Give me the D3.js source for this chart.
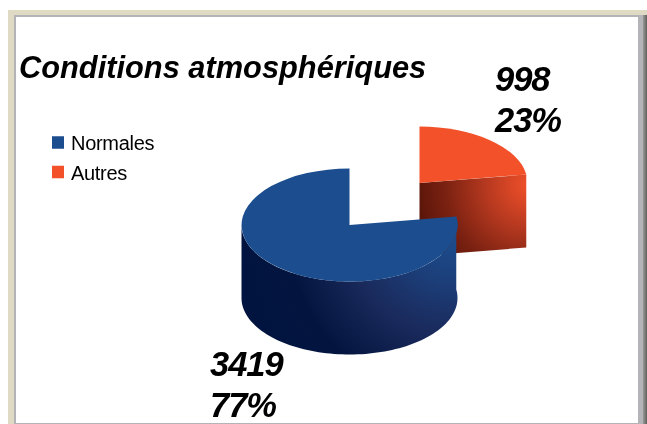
<!DOCTYPE html>
<html><head><meta charset="utf-8">
<script src="https://cdn.jsdelivr.net/npm/d3@7"></script>
<style>html,body{margin:0;padding:0;background:#fff;overflow:hidden}svg{display:block;filter:blur(0.4px)}text{font-family:"Liberation Sans",Arial,sans-serif}</style>
</head><body><svg id="c" width="647" height="424"></svg>
<script>
const categories = ["Normales", "Autres"];
const values = [3419, 998];
const percents = ["77%", "23%"];
const colors = ["#1c4e8f", "#f2512a"];
const titleText = "Conditions atmosphériques";

const svg = d3.select("#c");
const defs = svg.append("defs");

// window frame
const frameG = svg.append("g");
frameG.append("rect").attr("x",8).attr("y",10).attr("width",639).attr("height",414).attr("fill","#dfdac4");
frameG.append("rect").attr("x",14).attr("y",15).attr("width",633).attr("height",409).attr("fill","#b3b3b8");
const sh = defs.append("linearGradient").attr("id","sh");
sh.append("stop").attr("offset",0).attr("stop-color","#9a9a9a");
sh.append("stop").attr("offset",1).attr("stop-color","#5f5f5c");
frameG.append("rect").attr("x",643).attr("y",15).attr("width",4).attr("height",409).attr("fill","url(#sh)");
frameG.append("rect").attr("x",16).attr("y",17).attr("width",622).attr("height",406).attr("fill","#fff");

// wall shading, expressed relative to each wedge's own centre
const rg = defs.append("radialGradient").attr("id","gBlue").attr("gradientUnits","userSpaceOnUse")
  .attr("cx",100).attr("cy",10).attr("r",205);
[[0,"#1c4e8f"],[0.22,"#1c3f7a"],[0.48,"#1a2a5c"],[0.78,"#03153f"],[1,"#011440"]].forEach(s=>rg.append("stop").attr("offset",s[0]).attr("stop-color",s[1]));
const rr = defs.append("radialGradient").attr("id","gRed").attr("gradientUnits","userSpaceOnUse")
  .attr("cx",110).attr("cy",2).attr("r",118);
[[0,"#f2512a"],[0.35,"#b93a20"],[0.7,"#7d2212"],[1,"#551408"]].forEach(s=>rr.append("stop").attr("offset",s[0]).attr("stop-color",s[1]));

// the smaller slice starts at 12 o'clock, the other one fills the rest
const pie = d3.pie().sort(null);
const slices = pie(values);
const span = slices[1].endAngle - slices[1].startAngle;
const redA = [0, span], blueA = [span, 2*Math.PI];

const rx = d3.scaleLinear().domain([-1,1]).range([-108,108]);
const ry = d3.scaleLinear().domain([-1,1]).range([-56.5,56.5]);
const depth = 73;
const arc = d3.arc().innerRadius(0).outerRadius(1);

function drawWedge(cx, cy, a, topColor, wallFill, wallAngles, cut){
  const g = svg.append("g").attr("transform",`translate(${cx},${cy})`);
  const px = t => rx(Math.sin(t)), py = t => -ry(Math.cos(t));
  const area = d3.area().x(d=>d.x).y0(d=>d.y).y1(d=>d.y+depth);
  const pts = cut
    ? [{x:0,y:0},{x:px(a[1]),y:py(a[1])}]
    : d3.range(wallAngles[0], wallAngles[1]+1e-6, (wallAngles[1]-wallAngles[0])/90).map(t=>({x:px(t),y:py(t)}));
  g.append("path").attr("d",area(pts)).attr("fill",wallFill);
  g.append("path").attr("d",arc({startAngle:a[0],endAngle:a[1]}))
   .attr("transform",`scale(${rx(1)},${ry(1)})`).attr("fill",topColor);
}
drawWedge(419.5,183,redA,colors[1],"url(#gRed)",null,true);
drawWedge(349.5,225,blueA,colors[0],"url(#gBlue)",[span,1.5*Math.PI],false);

svg.append("text").text(titleText).attr("x",19).attr("y",78)
  .attr("font-size",30.8).attr("font-weight","bold").attr("font-style","italic").attr("fill","#000");

const leg = svg.selectAll("g.leg").data(categories).join("g").attr("class","leg");
const ly = d3.scalePoint().domain(categories).range([142.5,172]);
leg.append("rect").attr("x",52).attr("width",12).attr("height",12.5)
  .attr("y",d=>ly(d)-6.25).attr("fill",(d,i)=>colors[i]);
leg.append("text").text(d=>d).attr("x",71).attr("y",d=>ly(d)+7.5)
  .attr("font-size",20).attr("letter-spacing",-0.3).attr("fill","#000");

const lab = [{x:495,y:[91,132],i:1},{x:210,y:[376,417],i:0}];
lab.forEach(l=>{
  [String(values[l.i]),percents[l.i]].forEach((t,k)=>{
    svg.append("text").text(t).attr("x",l.x).attr("y",l.y[k])
      .attr("font-size",34.5).attr("letter-spacing",-1).attr("font-weight","bold").attr("font-style","italic").attr("fill","#000");
  });
});
</script></body></html>
